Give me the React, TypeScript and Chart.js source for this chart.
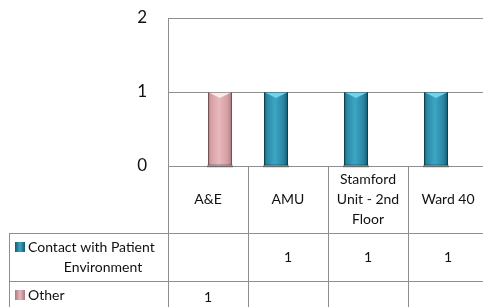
import React, { useEffect, useRef } from "react";
import { Chart, registerables } from "chart.js";

Chart.register(...registerables);

// ---- data ----
const categories: string[][] = [["A&E"], ["AMU"], ["Stamford", "Unit - 2nd", "Floor"], ["Ward 40"]];
const seriesNames: string[][] = [["Contact with Patient", "Environment"], ["Other"]];
const contactValues: (number | null)[] = [null, 1, 1, 1];
const otherValues: (number | null)[] = [1, null, null, null];
const yMin = 0;
const yMax = 2;
const yStep = 1;

// ---- styles ----
const FONT = "Lato, 'Open Sans', sans-serif";
const GRID = "#8e8e8e";
const TEXT = "#111111";
const seriesStyle = [
  { base: "#2a88a3", dark: "#175a6d", light: "#3ba6c4", top: "#6fd3ef" },
  { base: "#d6a0a4", dark: "#a97a7e", light: "#e8b9bc", top: "#fbecec" },
];

const barLookPlugin = {
  id: "barLook",
  afterDatasetsDraw(chart: any) {
    const ctx = chart.ctx;
    chart.data.datasets.forEach((ds: any, di: number) => {
      const meta = chart.getDatasetMeta(di);
      const st = seriesStyle[di];
      meta.data.forEach((el: any, i: number) => {
        if (ds.data[i] == null) return;
        const { x, y, base, width } = el.getProps(["x", "y", "base", "width"], true);
        const l = x - width / 2;
        const r = x + width / 2;
        ctx.save();
        ctx.fillStyle = "rgba(0,0,0,0.25)";
        ctx.fillRect(l - 1, base - 1, width + 2, 3);
        const g = ctx.createLinearGradient(l, 0, r, 0);
        g.addColorStop(0, st.dark);
        g.addColorStop(0.12, st.base);
        g.addColorStop(0.45, st.light);
        g.addColorStop(0.8, st.base);
        g.addColorStop(1, st.dark);
        ctx.fillStyle = g;
        ctx.fillRect(l, y, width, base - y);
        const bev = Math.min(6, width / 3);
        ctx.fillStyle = st.top;
        ctx.beginPath();
        ctx.moveTo(l, y);
        ctx.lineTo(r, y);
        ctx.lineTo(x, y + bev);
        ctx.closePath();
        ctx.fill();
        ctx.strokeStyle = "rgba(0,0,0,0.35)";
        ctx.lineWidth = 1;
        ctx.strokeRect(l + 0.5, y + 0.5, width - 1, base - y - 1);
        ctx.restore();
      });
    });
  },
};

const tablePlugin = {
  id: "dataTable",
  afterDraw(chart: any) {
    const ctx = chart.ctx;
    const xs = chart.scales.x;
    const ca = chart.chartArea;
    const n = categories.length;
    const step = xs.getPixelForValue(1) - xs.getPixelForValue(0);
    const edges: number[] = [];
    for (let i = 0; i <= n; i++) edges.push(xs.getPixelForValue(0) - step / 2 + i * step);
    const tableLeft = 9;
    const headerTop = ca.bottom;
    const headerBottom = headerTop + 67;
    const rowH = [48, 30];
    const rowTops = [headerBottom, headerBottom + rowH[0]];
    const tableBottom = rowTops[1] + rowH[1];
    const a = (v: number) => Math.round(v) + 0.5;

    ctx.save();
    ctx.strokeStyle = GRID;
    ctx.lineWidth = 1;
    ctx.beginPath();
    edges.forEach((e) => {
      ctx.moveTo(a(e), headerTop);
      ctx.lineTo(a(e), tableBottom);
    });
    ctx.moveTo(a(tableLeft), headerBottom);
    ctx.lineTo(a(tableLeft), tableBottom);
    [headerBottom, rowTops[1], tableBottom].forEach((yy) => {
      ctx.moveTo(tableLeft, a(yy));
      ctx.lineTo(edges[n], a(yy));
    });
    ctx.stroke();

    ctx.fillStyle = TEXT;
    ctx.font = "14px " + FONT;
    ctx.textBaseline = "middle";
    ctx.textAlign = "center";
    const lh = 20;
    categories.forEach((lines, i) => {
      const cx = (edges[i] + edges[i + 1]) / 2;
      const cy = (headerTop + headerBottom) / 2;
      lines.forEach((t, k) => {
        ctx.fillText(t, cx, cy + (k - (lines.length - 1) / 2) * lh);
      });
    });

    const series = [contactValues, otherValues];
    series.forEach((vals, si) => {
      const top = rowTops[si];
      const cy = top + rowH[si] / 2;
      const names = seriesNames[si];
      const firstY = names.length > 1 ? cy - 10 : top + 14;
      const st = seriesStyle[si];
      const kg = ctx.createLinearGradient(15, 0, 25, 0);
      kg.addColorStop(0, st.dark);
      kg.addColorStop(0.5, st.light);
      kg.addColorStop(1, st.dark);
      ctx.fillStyle = kg;
      ctx.fillRect(15, firstY - 5, 10, 10);
      ctx.fillStyle = TEXT;
      names.forEach((t, k) => {
        if (k === 0) {
          ctx.textAlign = "left";
          ctx.fillText(t, 28, firstY);
        } else {
          ctx.textAlign = "center";
          ctx.fillText(t, 103, firstY + k * lh);
        }
      });
      ctx.textAlign = "center";
      const vy = names.length > 1 ? cy : firstY + 2;
      vals.forEach((v, i) => {
        if (v == null) return;
        ctx.fillText(String(v), (edges[i] + edges[i + 1]) / 2, vy);
      });
    });
    ctx.restore();
  },
};

export default function App() {
  const ref = useRef<HTMLCanvasElement | null>(null);
  useEffect(() => {
    if (!ref.current) return;
    const chart = new Chart(ref.current, {
      type: "bar",
      data: {
        labels: categories.map((c) => c.join(" ")),
        datasets: [
          {
            label: seriesNames[0].join(" "),
            data: contactValues,
            backgroundColor: "rgba(0,0,0,0)",
            categoryPercentage: 0.6,
            barPercentage: 1,
          },
          {
            label: seriesNames[1].join(" "),
            data: otherValues,
            backgroundColor: "rgba(0,0,0,0)",
            categoryPercentage: 0.6,
            barPercentage: 1,
          },
        ],
      },
      options: {
        responsive: false,
        animation: false,
        events: [],
        layout: { padding: { left: 0, top: 18, right: 4, bottom: 164 } },
        plugins: { legend: { display: false }, tooltip: { enabled: false } },
        scales: {
          x: { display: false },
          y: {
            min: yMin,
            max: yMax,
            afterFit: (s: any) => {
              s.width = 168;
            },
            ticks: {
              stepSize: yStep,
              color: TEXT,
              padding: 0,
              font: { family: FONT, size: 17 },
            },
            grid: { color: GRID, drawTicks: true, tickLength: 21, tickColor: "rgba(0,0,0,0)" },
            border: { display: true, color: GRID },
          },
        },
      },
      plugins: [barLookPlugin, tablePlugin],
    });
    return () => chart.destroy();
  }, []);
  return (
    <div style={{ position: "fixed", left: 0, top: 0, width: 483, height: 307, overflow: "hidden", background: "#fff" }}>
      <canvas ref={ref} width={492} height={330} style={{ display: "block" }} />
    </div>
  );
}
